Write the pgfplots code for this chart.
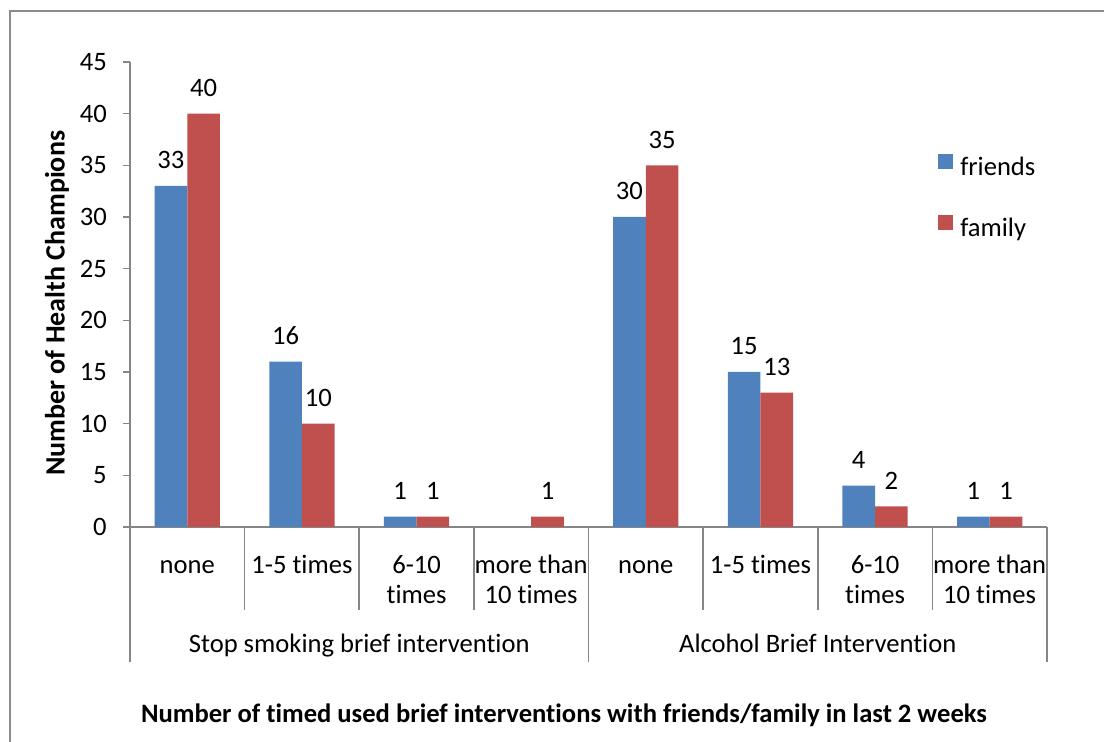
\documentclass[border=0pt]{standalone}
\usepackage{fontspec}
\setmainfont{Carlito}[Ligatures=NoCommon]
\usepackage{pgfplots}
\pgfplotsset{compat=1.18}

\definecolor{friends}{HTML}{4F81BD}
\definecolor{family}{HTML}{C0504D}
\definecolor{axgray}{HTML}{868686}
\definecolor{framegray}{HTML}{8C8C8C}

\begin{document}
\begin{tikzpicture}[font=\fontsize{13.3}{15}\selectfont]
% picture frame (page is 1104x742 px at 0.5pt per px)
\useasboundingbox (-65pt,-107.5pt) rectangle (487pt,263.5pt);
\draw[framegray, line width=0.9pt] (-60pt,-107.5pt) -- (-60pt,258pt) -- (487pt,258pt);
\begin{axis}[
  at={(0,0)}, anchor=south west,
  scale only axis,
  width=458.5pt, height=232.5pt,
  xmin=-0.5, xmax=7.5, ymin=0, ymax=45,
  axis lines*=left,
  axis line style={axgray, line width=0.8pt},
  clip=false,
  ybar, bar width=0.285,
  ytick={0,5,...,45},
  tick align=outside,
  major tick length=3.5pt,
  y tick style={axgray, line width=0.8pt},
  x tick style={draw=none},
  y tick label style={xshift=-4.6pt},
  /pgf/number format/assume math mode=true,
  xtick={0,...,7},
  xticklabels={\strut none, \strut 1-5 times, \strut 6-10\\times, \strut more than\\10 times,
               \strut none, \strut 1-5 times, \strut 6-10\\times, \strut more than\\10 times},
  x tick label style={align=center, anchor=north, inner sep=0pt, yshift=-9pt},
  xlabel={Number of timed used brief interventions with friends/family in last 2 weeks},
  every axis x label/.style={at={(axis description cs:0.4733,0)}, yshift=-94pt, anchor=center,
    font=\fontsize{13.3}{15}\selectfont\bfseries},
  ylabel={Number of Health Champions},
  every axis y label/.style={at={(axis description cs:-0.0796,0.481)}, rotate=90, anchor=center,
    font=\fontsize{14}{16}\selectfont\bfseries},
  nodes near coords,
  every node near coord/.append style={yshift=5pt, black},
  legend cell align=left,
  legend style={draw=none, fill=none, at={(rel axis cs:0.881,0.8027)}, anchor=north west,
    row sep=17pt, column sep=3.5pt, inner sep=0pt,
    nodes={inner sep=0pt, text height=9pt, text depth=3pt}},
]
\addplot[fill=friends, draw=none, bar shift=-0.1425,
  legend image code/.code={\fill[friends] (0pt,0pt) rectangle (7.5pt,7.5pt);}]
  coordinates {(0,33) (1,16) (2,1) (4,30) (5,15) (6,4) (7,1)};
\addplot[fill=family, draw=none, bar shift=0.1425,
  legend image code/.code={\fill[family] (0pt,0pt) rectangle (7.5pt,7.5pt);}]
  coordinates {(0,40) (1,10) (2,1) (3,1) (4,35) (5,13) (6,2) (7,1)};
\legend{friends, family}

% category separators
\pgfplotsinvokeforeach{0.5,1.5,2.5,4.5,5.5,6.5}{
  \draw[axgray, line width=0.8pt] (axis cs:#1,0) -- ([yshift=-41.5pt]axis cs:#1,0);
}
\pgfplotsinvokeforeach{-0.5,3.5,7.5}{
  \draw[axgray, line width=0.8pt] (axis cs:#1,0) -- ([yshift=-67.5pt]axis cs:#1,0);
}
\node[anchor=base] at ([yshift=-63pt]axis cs:1.5,0) {Stop smoking brief intervention};
\node[anchor=base] at ([yshift=-63pt]axis cs:5.5,0) {Alcohol Brief Intervention};
\end{axis}
\end{tikzpicture}
\end{document}
